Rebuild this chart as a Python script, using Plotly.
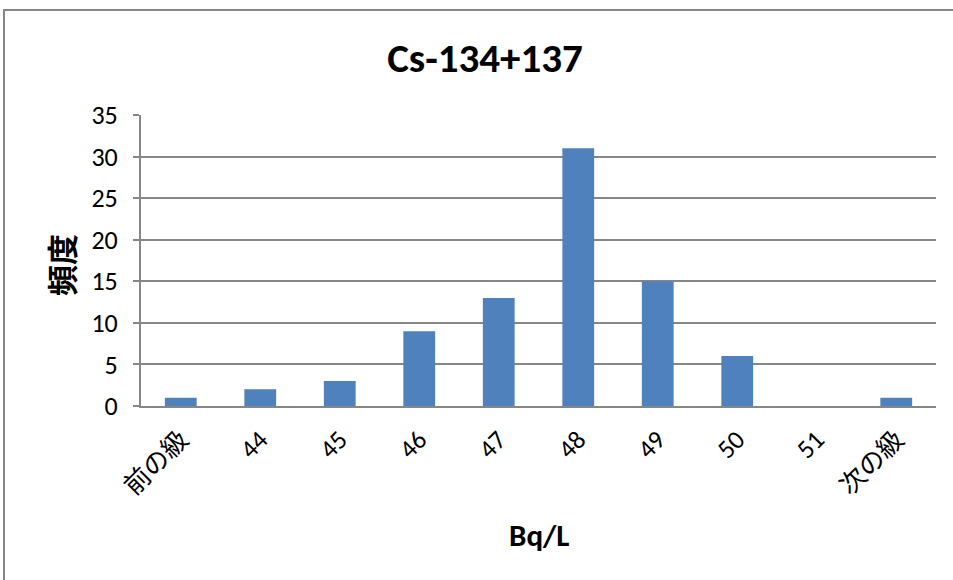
import plotly.graph_objects as go

categories = ["前の級", "44", "45", "46", "47", "48", "49", "50", "51", "次の級"]
frequency = [1, 2, 3, 9, 13, 31, 15, 6, 0, 1]
y_ticks = [0, 5, 10, 15, 20, 25, 30, 35]

FONT = "Carlito, Calibri, Lato, 'Noto Sans CJK JP', sans-serif"
CJK = "'Noto Sans CJK JP', sans-serif"

fig = go.Figure(go.Bar(x=categories, y=frequency, marker=dict(color="#4F81BD", line=dict(width=0))))

L, R, T, B = 141, 17, 115, 174
W, H = 953, 580
pw, ph = W - L - R, H - T - B

def px(x):
    return (x - L) / pw

def py(y):
    return 1 - (y - T) / ph

fig.update_layout(
    width=W, height=H,
    margin=dict(l=L, r=R, t=T, b=B),
    paper_bgcolor="white", plot_bgcolor="white",
    bargap=0.6,
    showlegend=False,
    font=dict(family=FONT, color="black"),
    title=dict(text="<b>Cs-134+137</b>", x=px(485), xref="paper", xanchor="center",
               y=1 - 58 / H, yanchor="middle", font=dict(size=41, family=FONT)),
    xaxis=dict(type="category", tickangle=-45, tickfont=dict(size=26, family=FONT),
               showline=True, linecolor="#868686", linewidth=2, showgrid=False,
               ticks="", title=None, ticklabelstandoff=6),
    yaxis=dict(range=[0, 35], tickvals=y_ticks, tickfont=dict(size=26, family=FONT),
               showgrid=True, gridcolor="#868686", gridwidth=1.5,
               showline=True, linecolor="#868686", linewidth=2,
               ticks="outside", ticklen=6, tickcolor="#868686", tickwidth=1.5,
               zeroline=False, title=None, ticklabelstandoff=10),
    shapes=[dict(type="rect", xref="paper", yref="paper",
                 x0=px(4), x1=px(W + 10), y0=py(H + 10), y1=py(10),
                 line=dict(color="#868686", width=2), fillcolor="rgba(0,0,0,0)", layer="below")],
    annotations=[
        dict(text="<b>頻度</b>", xref="paper", yref="paper", x=px(60), y=py(265),
             textangle=-90, showarrow=False, font=dict(size=31, family=CJK),
             xanchor="center", yanchor="middle"),
        dict(text="<b>Bq/L</b>", xref="paper", yref="paper", x=px(539), y=py(535),
             showarrow=False, font=dict(size=31, family=FONT),
             xanchor="center", yanchor="middle"),
    ],
)

fig.write_html("out.html", config={"displayModeBar": False},
               post_script="document.body.style.margin='0';")
